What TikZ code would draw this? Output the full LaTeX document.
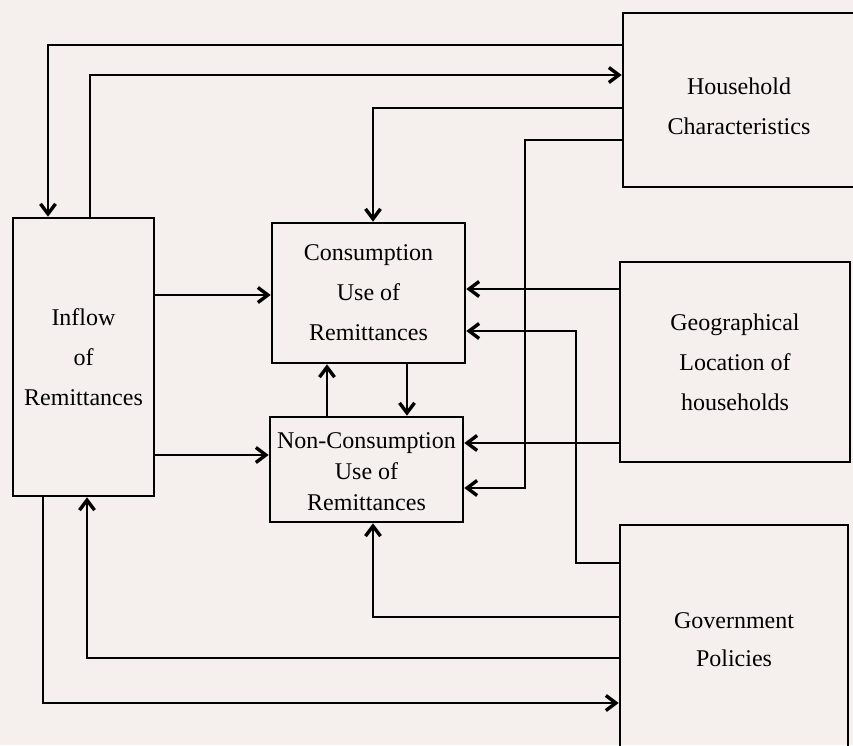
\documentclass[tikz,border=0pt]{standalone}
\usepackage{fontspec}
\setmainfont{Liberation Serif}
\usetikzlibrary{arrows.meta}
\definecolor{paper}{RGB}{245,240,237}
\begin{document}
\begin{tikzpicture}[x=1pt,y=-1pt,
  box/.style={draw=black,line width=2.6pt,rectangle,inner sep=0pt,align=center,
    font=\fontsize{24}{40}\selectfont},
  lbl/.style={inner sep=0pt,align=center,font=\fontsize{24}{40}\selectfont},
  link/.style={draw=black,line width=2.8pt},
  arr/.style={link,-{Straight Barb[length=10pt,width=15pt,line width=3.4pt]}}]
\fill[paper] (0,0) rectangle (853,745);
\useasboundingbox (0,0) rectangle (853,745);
\clip (0,0) rectangle (853,745);
% boxes
\node[box,minimum width=141pt,minimum height=278pt] (inflow) at (83.5,357) {Inflow\\of\\Remittances};
\node[box,minimum width=193pt,minimum height=140pt] (cons) at (368.5,293) {Consumption\\Use of\\Remittances};
\node[box,minimum width=193pt,minimum height=105pt,font=\fontsize{24}{32}\selectfont] (ncons) at (366.5,469.5) {};
\node[lbl,font=\fontsize{24}{31}\selectfont] (nconstext) at (366.5,472) {Non-Consumption\\Use of\\Remittances};
\node[box,minimum width=235pt,minimum height=174pt] (hh) at (740.5,100) {};
\node[lbl] (hhtext) at (739,106) {Household\\Characteristics};
\node[box,minimum width=230pt,minimum height=200pt] (geo) at (735,362) {Geographical\\Location of\\households};
\node[box,minimum width=228pt,minimum height=230pt,font=\fontsize{24}{38}\selectfont] (gov) at (734,640) {Government\\Policies};
% connectors
\draw[arr] (hh.west |- 0,45) -| (48,0 |- inflow.north);
\draw[arr] (90,0 |- inflow.north) |- (hh.west |- 0,75);
\draw[arr] (hh.west |- 0,108) -| (373,0 |- cons.north);
\draw[arr] (hh.west |- 0,140) -| (525,488) -- (ncons.east |- 0,488);
\draw[arr] (geo.west |- 0,289) -- (cons.east |- 0,289);
\draw[arr] (geo.west |- 0,443) -- (ncons.east |- 0,443);
\draw[arr] (gov.west |- 0,563) -| (576,331) -- (cons.east |- 0,331);
\draw[arr] (gov.west |- 0,617) -| (373,0 |- ncons.south);
\draw[arr] (gov.west |- 0,658) -| (87,0 |- inflow.south);
\draw[arr] (43,0 |- inflow.south) |- (gov.west |- 0,703);
\draw[arr] (inflow.east |- 0,295) -- (cons.west |- 0,295);
\draw[arr] (inflow.east |- 0,455) -- (ncons.west |- 0,455);
\draw[arr] (327,0 |- ncons.north) -- (327,0 |- cons.south);
\draw[arr] (407,0 |- cons.south) -- (407,0 |- ncons.north);
\end{tikzpicture}
\end{document}
